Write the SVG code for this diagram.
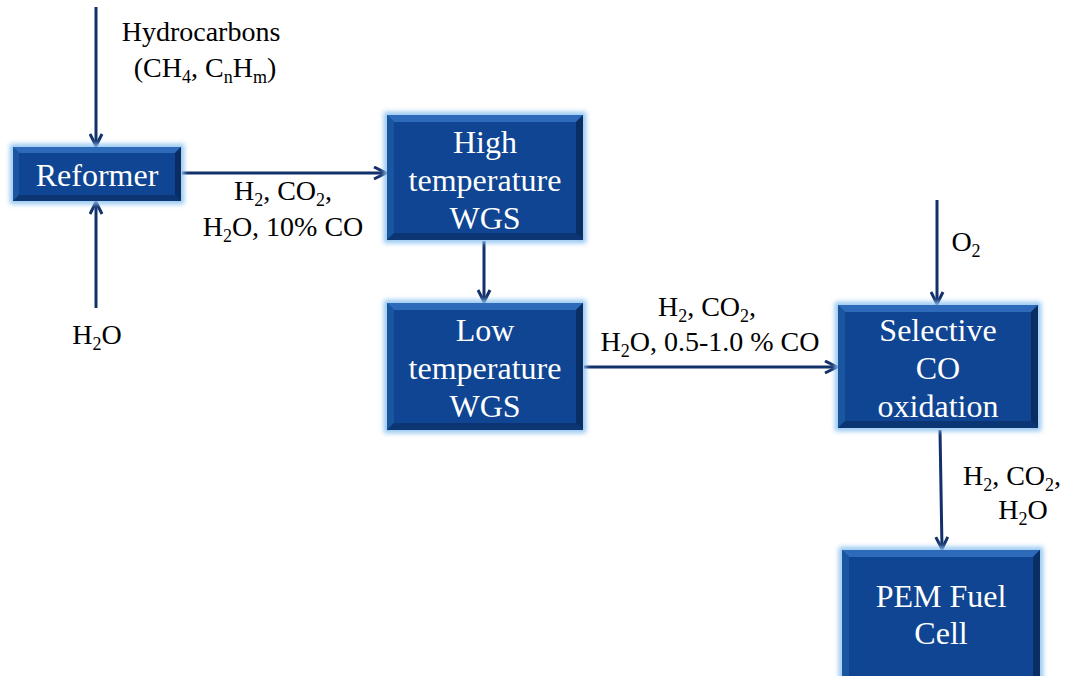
<svg xmlns="http://www.w3.org/2000/svg" width="1073" height="676" viewBox="0 0 1073 676">
<defs>
<style>
.lbl{font-family:"Liberation Serif","Times New Roman",serif;font-size:28px;fill:#000;text-anchor:middle}
.bt{font-family:"Liberation Serif","Times New Roman",serif;font-size:32px;fill:#fff;text-anchor:middle}
.sub{font-size:18px}
.glow{fill:none;stroke:#8EC3F0;stroke-width:6;filter:url(#blur)}
.face{fill:#0F4592}
.top{fill:#2D6BBA}
.lft{fill:#1A559F}
.rgt{fill:#0A2E63}
.bot{fill:#0B3673}
.conn{stroke:#12306A;stroke-width:3;fill:none;marker-end:url(#ah)}
</style>
<filter id="blur" x="-20%" y="-20%" width="140%" height="140%"><feGaussianBlur stdDeviation="2.5"/></filter>
<marker id="ah" viewBox="0 0 10 10" refX="9" refY="5" markerWidth="5" markerHeight="5" orient="auto" markerUnits="strokeWidth">
<path d="M1,1 L9,5 L1,9" fill="none" stroke="#12306A" stroke-width="2"/>
</marker>
</defs>
<rect width="1073" height="676" fill="#fff"/>

<g id="connectors">
<path class="conn" d="M96,7 V146"/>
<path class="conn" d="M96,308 V202"/>
<path class="conn" d="M182,173 H386"/>
<path class="conn" d="M484,241 V302"/>
<path class="conn" d="M584,367 H837"/>
<path class="conn" d="M937,200 V304"/>
<path class="conn" d="M940,430 L942,549"/>
</g>

<g id="reformer">
<rect class="glow" x="13" y="147" width="168" height="54"/>
<rect class="face" x="13" y="147" width="168" height="54"/>
<path class="top" d="M13,147 H181 L175,153 H19 Z"/>
<path class="lft" d="M13,147 L19,153 V195 L13,201 Z"/>
<path class="rgt" d="M181,147 V201 L175,195 V153 Z"/>
<path class="bot" d="M13,201 H181 L175,195 H19 Z"/>
<text class="bt" x="97" y="186">Reformer</text>
</g>

<g id="htwgs">
<rect class="glow" x="387" y="115" width="196" height="125"/>
<rect class="face" x="387" y="115" width="196" height="125"/>
<path class="top" d="M387,115 H583 L576,122 H394 Z"/>
<path class="lft" d="M387,115 L394,122 V233 L387,240 Z"/>
<path class="rgt" d="M583,115 V240 L576,233 V122 Z"/>
<path class="bot" d="M387,240 H583 L576,233 H394 Z"/>
<text class="bt" x="485" y="153">High</text>
<text class="bt" x="485" y="191">temperature</text>
<text class="bt" x="485" y="229">WGS</text>
</g>

<g id="ltwgs">
<rect class="glow" x="387" y="303" width="196" height="127"/>
<rect class="face" x="387" y="303" width="196" height="127"/>
<path class="top" d="M387,303 H583 L576,310 H394 Z"/>
<path class="lft" d="M387,303 L394,310 V423 L387,430 Z"/>
<path class="rgt" d="M583,303 V430 L576,423 V310 Z"/>
<path class="bot" d="M387,430 H583 L576,423 H394 Z"/>
<text class="bt" x="485" y="341">Low</text>
<text class="bt" x="485" y="379">temperature</text>
<text class="bt" x="485" y="417">WGS</text>
</g>

<g id="selco">
<rect class="glow" x="838" y="305" width="200" height="123"/>
<rect class="face" x="838" y="305" width="200" height="123"/>
<path class="top" d="M838,305 H1038 L1031,312 H845 Z"/>
<path class="lft" d="M838,305 L845,312 V421 L838,428 Z"/>
<path class="rgt" d="M1038,305 V428 L1031,421 V312 Z"/>
<path class="bot" d="M838,428 H1038 L1031,421 H845 Z"/>
<text class="bt" x="938" y="341">Selective</text>
<text class="bt" x="938" y="379">CO</text>
<text class="bt" x="938" y="417">oxidation</text>
</g>

<g id="pem">
<rect class="glow" x="842" y="550" width="198" height="130"/>
<rect class="face" x="842" y="550" width="198" height="130"/>
<path class="top" d="M842,550 H1040 L1033,557 H849 Z"/>
<path class="lft" d="M842,550 L849,557 V680 H842 Z"/>
<path class="rgt" d="M1040,550 V680 H1033 V557 Z"/>
<text class="bt" x="941" y="607">PEM Fuel</text>
<text class="bt" x="941" y="644">Cell</text>
</g>

<g id="labels">
<text class="lbl" x="201" y="41">Hydrocarbons</text>
<text class="lbl" x="205" y="77">(CH<tspan class="sub" dy="6">4</tspan><tspan dy="-6">, C</tspan><tspan class="sub" dy="6">n</tspan><tspan dy="-6">H</tspan><tspan class="sub" dy="6">m</tspan><tspan dy="-6">)</tspan></text>
<text class="lbl" x="283" y="200">H<tspan class="sub" dy="6">2</tspan><tspan dy="-6">, CO</tspan><tspan class="sub" dy="6">2</tspan><tspan dy="-6">,</tspan></text>
<text class="lbl" x="283" y="236">H<tspan class="sub" dy="6">2</tspan><tspan dy="-6">O, 10% CO</tspan></text>
<text class="lbl" x="97" y="344">H<tspan class="sub" dy="6">2</tspan><tspan dy="-6">O</tspan></text>
<text class="lbl" x="707" y="316">H<tspan class="sub" dy="6">2</tspan><tspan dy="-6">, CO</tspan><tspan class="sub" dy="6">2</tspan><tspan dy="-6">,</tspan></text>
<text class="lbl" x="710" y="351">H<tspan class="sub" dy="6">2</tspan><tspan dy="-6">O, 0.5-1.0 % CO</tspan></text>
<text class="lbl" x="966" y="251">O<tspan class="sub" dy="6">2</tspan></text>
<text class="lbl" x="1012" y="485">H<tspan class="sub" dy="6">2</tspan><tspan dy="-6">, CO</tspan><tspan class="sub" dy="6">2</tspan><tspan dy="-6">,</tspan></text>
<text class="lbl" x="1023" y="519">H<tspan class="sub" dy="6">2</tspan><tspan dy="-6">O</tspan></text>
</g>
</svg>
